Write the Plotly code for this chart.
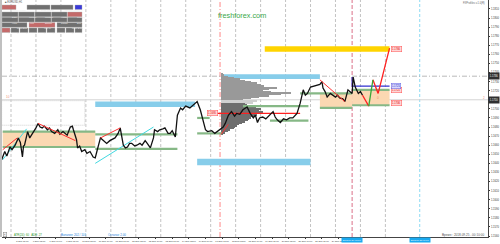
import plotly.graph_objects as go

# ---------------- data (bar index, price) ----------------
close_bar = [0,3,5,8,10,13,16,18,20,21,
 22,25,27,30,33,35,37,39,41,44,
 46,48,51,54,56,59,63,66,68,69,
 72,73,75,77,80,82,85,88,90,92,
 95,97,101,104,106,109,112,114,117,119,
 121,123,125,128,130,133,135,138,140,143,
 146,147,150,152,155,157,160,162,164,167,
 169,172,174,177,181,186,188,191,193,196,
 198,202,205,208,210,213,215,218,221,224,
 226,229,232,236,239,242,244,246,248,251,
 254,258,261,263,265,268,271,274,277,280,
 284,287,289,290,292,294,297,300,303,306,
 308,309,311,313,316,319,321,323,325,328,
 330,333,335,337,338,340,343,345,347]
close_price = [1.1644,1.1653,1.1648,1.1658,1.1655,1.1660,1.1668,1.1663,1.1647,1.1659,
 1.1660,1.1675,1.1668,1.1673,1.1679,1.1684,1.1680,1.1679,1.1681,1.1677,
 1.1679,1.1675,1.1673,1.1677,1.1672,1.1675,1.1671,1.1680,1.1681,1.1677,
 1.1666,1.1657,1.1659,1.1653,1.1655,1.1651,1.1653,1.1647,1.1646,1.1655,
 1.1668,1.1666,1.1662,1.1665,1.1666,1.1668,1.1673,1.1679,1.1660,1.1657,
 1.1658,1.1662,1.1662,1.1659,1.1660,1.1662,1.1660,1.1665,1.1662,1.1657,
 1.1668,1.1677,1.1675,1.1677,1.1678,1.1679,1.1673,1.1673,1.1676,1.1669,
 1.1693,1.1701,1.1699,1.1703,1.1701,1.1706,1.1708,1.1699,1.1690,1.1677,
 1.1675,1.1676,1.1673,1.1676,1.1677,1.1680,1.1684,1.1693,1.1697,1.1692,
 1.1695,1.1694,1.1699,1.1702,1.1695,1.1690,1.1693,1.1685,1.1690,1.1691,
 1.1689,1.1693,1.1697,1.1691,1.1688,1.1685,1.1689,1.1688,1.1690,1.1690,
 1.1695,1.1706,1.1717,1.1721,1.1715,1.1717,1.1724,1.1725,1.1726,1.1727,
 1.1730,1.1723,1.1719,1.1713,1.1717,1.1714,1.1713,1.1715,1.1712,1.1711,
 1.1708,1.1721,1.1719,1.1717,1.1735,1.1724,1.1717,1.1719,1.1715]

# volume profile (start bar, price bins, volume per bin)
profile_start_bar = 211
profile_top = 1.17385
profile_step = 0.00015
profile_volume = [1,3,7,12,18,23,29,35,38,41,54,46,40,48,67,58,46,36,29,21,
                  35,31,23,25,29,34,38,36,40,38,35,33,29,27,26,23,20,17,15,13,
                  12,9,7,4,2]

# zones
orange_x0 = [1, 306, 337]
orange_x1 = [90, 337, 373]
orange_lo = [1.1658, 1.1701, 1.1704]
orange_hi = [1.1675, 1.1717, 1.1721]
blue_x0 = [90, 211, 188]
blue_x1 = [186, 306, 297]
blue_lo = [1.1702, 1.1733, 1.1638]
blue_hi = [1.1708, 1.1738, 1.1645]
target_x0, target_x1, target_lo, target_hi = 253, 373, 1.1763, 1.1769
green_x0 = [1, 1, 90, 90, 188, 188, 232, 258, 287, 306, 337, 337]
green_x1 = [90, 90, 169, 169, 200, 212, 295, 295, 337, 337, 373, 373]
green_price = [1.1675, 1.1658, 1.1672, 1.1656, 1.1690, 1.1673, 1.1703, 1.1687,
               1.1717, 1.1701, 1.1721, 1.1704]
poc_x0, poc_x1, poc_price = 198, 287, 1.1695
pivot_x0, pivot_x1, pivot_price, pivot_spike = 337, 373, 1.1725, 1.1735
range_x0, range_x1, range_lo, range_hi = 0, 80, 1.1682, 1.1709

# zigzag / projection
zz_red_bar = [1, 15, None, 35, 71, None, 95, 114, None, 211, 218, None, 306, 330]
zz_red_price = [1.1655, 1.1668, None, 1.1684, 1.1665, None, 1.1668, 1.1679, None,
                1.1672, 1.1683, None, 1.1732, 1.1708]
zz_cyan_bar = [1, 24, None, 90, 146]
zz_cyan_price = [1.1644, 1.1678, None, 1.1640, 1.1680]
proj_red_bar = [347, 353, None, 357, 362, 373]
proj_red_price = [1.1715, 1.1703, None, 1.1732, 1.1717, 1.1767]
proj_green_bar = [353, 357]
proj_green_price = [1.1703, 1.1732]

# vertical markers & horizontal levels
day_separators = [9, 33, 57, 81, 105, 129, 153, 177, 201, 225, 249, 273, 297, 321, 345, 369]
session_line_bar = 210
signal_line_bar = 337
future_line_bar = 402
ask_price = 1.1736
level_price = 1.1710

# price tags
tag_bar = [203, 374, 374, 374]
tag_price = [1.1695, 1.1766, 1.1721, 1.1706]
blue_tag_bar, blue_tag_price = 374, 1.1725

# axes labels
y_ticks = [1.1810, 1.1800, 1.1790, 1.1780, 1.1770, 1.1760, 1.1750, 1.1740, 1.1730,
           1.1720, 1.1710, 1.1700, 1.1690, 1.1680, 1.1670, 1.1660, 1.1650, 1.1640,
           1.1630, 1.1620, 1.1610, 1.1600, 1.1590, 1.1580, 1.1570, 1.1560]
x_tick_bar = [4, 20, 36, 52, 68, 84, 100, 116, 132, 148, 164, 180, 196, 212, 228,
              244, 260, 276, 292, 308, 324]
x_tick_text = ["4 Sep 2018", "5 Sep 11:00", "6 Sep 03:00", "6 Sep 19:00", "7 Sep 11:00",
               "10 Sep 03:00", "10 Sep 19:00", "11 Sep 11:00", "12 Sep 03:00",
               "12 Sep 19:00", "13 Sep 11:00", "14 Sep 03:00", "14 Sep 19:00",
               "17 Sep 11:00", "18 Sep 03:00", "18 Sep 19:00", "19 Sep 11:00",
               "20 Sep 03:00", "20 Sep 19:00", "21 Sep 11:00", "24 Sep 03:00"]

# ---------------- figure ----------------
FONT = "Liberation Sans, Arial, sans-serif"
W, H = 500, 244
ML, MR, MT, MB = 2, 12, 0, 7
PW, PH = W - ML - MR, H - MT - MB


def PX(x):
    return (x - ML) / PW


def PY(y):
    return 1 - (y - MT) / PH


fig = go.Figure()
shapes = []
ann = []

# background day separators
for b in day_separators:
    shapes.append(dict(type="line", xref="x", yref="paper", x0=b, x1=b, y0=0, y1=1,
                       line=dict(color="#b4b4b4", width=0.8, dash="3px,2px"), layer="below"))
shapes.append(dict(type="line", xref="x", yref="paper", x0=session_line_bar, x1=session_line_bar,
                   y0=0, y1=1, line=dict(color="#ff7a7a", width=0.9, dash="5px,2px,1px,2px"),
                   layer="below"))
shapes.append(dict(type="line", xref="x", yref="paper", x0=signal_line_bar, x1=signal_line_bar,
                   y0=0, y1=1, line=dict(color="#d8607a", width=0.9, dash="4px,2px"), layer="below"))
shapes.append(dict(type="line", xref="x", yref="paper", x0=future_line_bar, x1=future_line_bar,
                   y0=0, y1=1, line=dict(color="#7fd6f2", width=0.9, dash="3px,2px"), layer="below"))
shapes.append(dict(type="line", xref="paper", yref="y", x0=0, x1=1, y0=ask_price, y1=ask_price,
                   line=dict(color="#a8a8a8", width=0.8, dash="5px,2px,1px,2px"), layer="below"))
shapes.append(dict(type="line", xref="paper", yref="y", x0=0, x1=1, y0=level_price, y1=level_price,
                   line=dict(color="#d4d4d4", width=1), layer="below"))
shapes.append(dict(type="rect", xref="x", yref="y", x0=range_x0, x1=range_x1, y0=range_lo, y1=range_hi,
                   line=dict(color="#c4c4c4", width=0.8, dash="1px,1px"), layer="below"))

# zones
for x0, x1, lo, hi in zip(orange_x0, orange_x1, orange_lo, orange_hi):
    shapes.append(dict(type="rect", xref="x", yref="y", x0=x0, x1=x1, y0=lo, y1=hi,
                       fillcolor="#fbd8b2", line=dict(width=0), layer="below"))
for x0, x1, lo, hi in zip(blue_x0, blue_x1, blue_lo, blue_hi):
    shapes.append(dict(type="rect", xref="x", yref="y", x0=x0, x1=x1, y0=lo, y1=hi,
                       fillcolor="#87cdea", line=dict(width=0), layer="below"))
shapes.append(dict(type="rect", xref="x", yref="y", x0=target_x0, x1=target_x1, y0=target_lo,
                   y1=target_hi, fillcolor="#ffd400", line=dict(width=0), layer="below"))

# volume profile
levels = [profile_top - i * profile_step for i in range(len(profile_volume))]
prof_colors = []
for i in range(len(profile_volume)):
    if i < 20:
        prof_colors.append("#999999")
    elif i < 22:
        prof_colors.append("#d0d0d0")
    else:
        prof_colors.append("#6e6e6e")
fig.add_trace(go.Bar(x=profile_volume, y=levels, base=profile_start_bar, orientation="h",
                     width=profile_step * 0.8, marker=dict(color=prof_colors, line=dict(width=0)),
                     hoverinfo="skip"))

# green levels
gx, gy = [], []
for x0, x1, p in zip(green_x0, green_x1, green_price):
    gx += [x0, x1, None]
    gy += [p, p, None]
fig.add_trace(go.Scatter(x=gx, y=gy, mode="lines", line=dict(color="#86b886", width=2.2),
                         hoverinfo="skip"))
# POC
fig.add_trace(go.Scatter(x=[poc_x0, poc_x1], y=[poc_price, poc_price], mode="lines",
                         line=dict(color="#ff2020", width=1.4), hoverinfo="skip"))
# pivot (blue)
fig.add_trace(go.Scatter(x=[pivot_x0, pivot_x0, pivot_x1], y=[pivot_spike, pivot_price, pivot_price],
                         mode="lines", line=dict(color="#3030d0", width=1.2), hoverinfo="skip"))
# zigzag
fig.add_trace(go.Scatter(x=zz_cyan_bar, y=zz_cyan_price, mode="lines",
                         line=dict(color="#40d8e0", width=1), connectgaps=False, hoverinfo="skip"))
# price
fig.add_trace(go.Scatter(x=close_bar, y=close_price, mode="lines",
                         line=dict(color="#111111", width=1.3), hoverinfo="skip"))
fig.add_trace(go.Scatter(x=zz_red_bar, y=zz_red_price, mode="lines",
                         line=dict(color="#ff3030", width=1), connectgaps=False, hoverinfo="skip"))
# projection
fig.add_trace(go.Scatter(x=proj_red_bar, y=proj_red_price, mode="lines",
                         line=dict(color="#ff2020", width=1.3), connectgaps=False, hoverinfo="skip"))
fig.add_trace(go.Scatter(x=proj_green_bar, y=proj_green_price, mode="lines",
                         line=dict(color="#3aa83a", width=1.3), hoverinfo="skip"))

# price tags
for b, p in zip(tag_bar, tag_price):
    ann.append(dict(x=b, y=p, xref="x", yref="y", text="%.4f" % p, showarrow=False,
                    xanchor="center" if b < 300 else "left", yanchor="middle",
                    font=dict(family=FONT, size=2.6, color="#e00000"), bgcolor="#ffd6d6",
                    bordercolor="#ff5050", borderwidth=0.5, borderpad=0.6))
ann.append(dict(x=blue_tag_bar, y=blue_tag_price, xref="x", yref="y", text="%.4f" % blue_tag_price,
                showarrow=False, xanchor="left", yanchor="middle",
                font=dict(family=FONT, size=2.6, color="#2020c0"), bgcolor="#d8d8ff",
                bordercolor="#6060e0", borderwidth=0.5, borderpad=0.4))
ann.append(dict(x=362, y=1.1712, xref="x", yref="y", text="0", showarrow=False,
                font=dict(family=FONT, size=3, color="#f09060")))
ann.append(dict(x=PX(4), y=PY(97), xref="paper", yref="paper", text="10", showarrow=False,
                xanchor="left", font=dict(family=FONT, size=3, color="#f09070")))
ann.append(dict(x=PX(487), y=PY(98), xref="paper", yref="paper", text="2", showarrow=False,
                xanchor="right", font=dict(family=FONT, size=3, color="#f09070")))

# right axis price boxes
for p in [ask_price, level_price]:
    ann.append(dict(x=1, y=p, xref="paper", yref="y", text="%.4f" % p, showarrow=False,
                    xanchor="left", yanchor="middle", font=dict(family=FONT, size=2.6, color="white"),
                    bgcolor="#303030", borderpad=0.8))

# time-axis boxes for the vertical lines
for b, t in [(signal_line_bar, "2018.09.24 16:00"), (future_line_bar, "2018.09.27 09:00")]:
    ann.append(dict(x=b, y=PY(240.5), xref="x", yref="paper", text=t, showarrow=False,
                    xanchor="center", yanchor="middle", font=dict(family=FONT, size=2.3, color="white"),
                    bgcolor="#1aaaf0", borderpad=0.8))

# bottom info texts
ann.append(dict(x=PX(12), y=PY(235), xref="paper", yref="paper", text="ATR(24): 60   ADR: 27",
                showarrow=False, xanchor="left", yanchor="middle",
                font=dict(family=FONT, size=2.8, color="#2e9a2e")))
ann.append(dict(x=PX(59), y=PY(235), xref="paper", yref="paper", text="Волатил: 202 / 101",
                showarrow=False, xanchor="left", yanchor="middle",
                font=dict(family=FONT, size=2.9, color="#1e7fe0")))
ann.append(dict(x=PX(106), y=PY(235), xref="paper", yref="paper", text="Остаток: 2.00",
                showarrow=False, xanchor="left", yanchor="middle",
                font=dict(family=FONT, size=2.9, color="#1e7fe0")))
ann.append(dict(x=PX(486), y=PY(235), xref="paper", yref="paper",
                text="Время : 2018.09.25 - 00:10:00", showarrow=False, xanchor="right",
                yanchor="middle", font=dict(family=FONT, size=3.1, color="#555555")))
ann.append(dict(x=PX(3), y=PY(234.5), xref="paper", yref="paper", text="1", showarrow=False,
                xanchor="left", yanchor="middle", font=dict(family=FONT, size=2.5, color="#555"),
                bordercolor="#888", borderwidth=0.5, borderpad=0.5, bgcolor="#eeeeee"))

# header texts
ann.append(dict(x=PX(3), y=PY(2), xref="paper", yref="paper", text="■ EURUSD,H1", showarrow=False,
                xanchor="left", yanchor="middle", font=dict(family=FONT, size=2.6, color="#555")))
ann.append(dict(x=PX(487), y=PY(3), xref="paper", yref="paper", text="FXProfiles v.1.0(R)",
                showarrow=False, xanchor="right", yanchor="middle",
                font=dict(family=FONT, size=2.6, color="#666")))
ann.append(dict(x=PX(242), y=PY(16), xref="paper", yref="paper", text="freshforex.com",
                showarrow=False, xanchor="center", yanchor="middle",
                font=dict(family=FONT, size=7.3, color="#3ba84a")))

# control panel (UI)
GRAY, RED, BLUE = "#707070", "#c46a6a", "#3a3ad8"
buttons = [
    (2, 16, 5, 9.5, "Volume Profile", RED), (27, 50, 5, 9.5, "Delta Profile", GRAY),
    (51, 73, 5, 9.5, "Absolute Profile", GRAY), (75, 82, 5, 9.5, "X", BLUE),
]
cols = [(2, 18), (18.5, 34.5), (35, 51), (51.5, 67), (67.5, 82)]
for (a, b), t in zip(cols, ["Daily", "Weekly", "Monthly", "Visible", "Custom"]):
    buttons.append((a, b, 12, 16.8, t, RED if t == "Custom" else GRAY))
for (a, b), t in zip(cols, ["Hour", "Area", "Simple", "Range", "Drill"]):
    buttons.append((a, b, 17.3, 22, t, GRAY))
buttons += [(2, 27, 22.6, 27.3, "Less Bars", GRAY), (29, 55, 22.6, 27.3, "VWAP", RED),
            (57, 82, 22.6, 27.3, "More Bars", GRAY)]
small = [(2, 10), (11, 19), (20, 28), (29, 37), (38, 46), (47, 55), (57, 65), (66, 74), (75, 82)]
for k, (a, b) in enumerate(small):
    buttons.append((a, b, 28, 32.5, str(k + 1), RED if k == 0 else GRAY))
for a, b, c, d, t, col in buttons:
    shapes.append(dict(type="rect", xref="paper", yref="paper", x0=PX(a), x1=PX(b), y0=PY(d), y1=PY(c),
                       fillcolor=col, line=dict(color="#b0b0b0", width=0.4)))
    ann.append(dict(x=PX((a + b) / 2), y=PY((c + d) / 2), xref="paper", yref="paper", text=t,
                    showarrow=False, font=dict(family=FONT, size=2.3, color="#eeeeee")))

# left gray strip
shapes.append(dict(type="rect", xref="paper", yref="paper", x0=PX(0), x1=PX(2), y0=PY(237), y1=1,
                   fillcolor="#c0c0c0", line=dict(width=0)))

fig.update_layout(
    width=W, height=H, margin=dict(l=ML, r=MR, t=MT, b=MB),
    paper_bgcolor="white", plot_bgcolor="white", showlegend=False,
    shapes=shapes, annotations=ann, bargap=0,
    font=dict(family=FONT),
    xaxis=dict(range=[0.35, 467.65], showgrid=False, zeroline=False, tickmode="array",
               tickvals=x_tick_bar, ticktext=x_tick_text, tickangle=0,
               tickfont=dict(family=FONT, size=2.3, color="#333"), ticks="outside", ticklen=1.5,
               tickwidth=0.5, tickcolor="#333", showline=True, linecolor="#444", linewidth=0.8,
               mirror=True),
    yaxis=dict(range=[1.15589, 1.18199], side="right", showgrid=False, zeroline=False,
               tickmode="array", tickvals=y_ticks, ticktext=["%.4f" % v for v in y_ticks],
               tickfont=dict(family=FONT, size=2.6, color="#333"), ticks="outside", ticklen=1.5,
               tickwidth=0.5, tickcolor="#333", showline=True, linecolor="#444", linewidth=0.8),
)

fig.write_html("out.html")
